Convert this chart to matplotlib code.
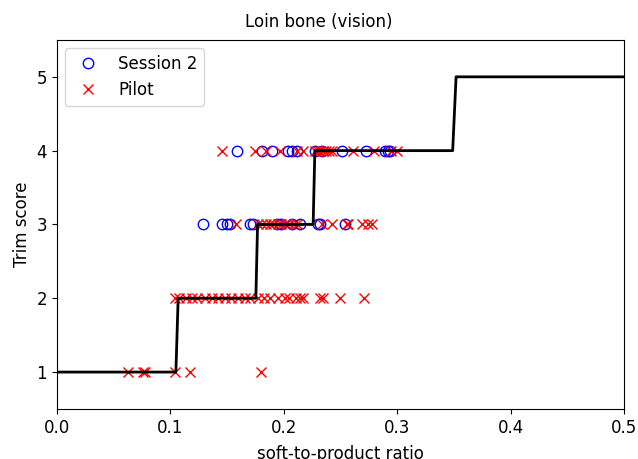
import matplotlib
matplotlib.use('Agg')
import matplotlib.pyplot as plt

# step function (fitted thresholds)
step_x = [0.0, 0.105, 0.107, 0.1755, 0.177, 0.226, 0.2275, 0.349, 0.352, 0.5]
step_y = [1, 1, 2, 2, 3, 3, 4, 4, 5, 5]

# Session 2 points
s2_x3 = [0.129, 0.146, 0.150, 0.153, 0.170, 0.173, 0.194, 0.198, 0.207, 0.214, 0.230, 0.232, 0.254]
s2_x4 = [0.159, 0.181, 0.190, 0.204, 0.207, 0.212, 0.228, 0.234, 0.251, 0.273, 0.289, 0.292, 0.294]

# Pilot points
p_x1 = [0.063, 0.076, 0.078, 0.104, 0.117, 0.180]
p_x2 = [0.104, 0.108, 0.114, 0.119, 0.124, 0.131, 0.137, 0.142, 0.148, 0.154, 0.160,
        0.166, 0.170, 0.177, 0.183, 0.188, 0.195, 0.201, 0.205, 0.211, 0.214, 0.217,
        0.232, 0.235, 0.250, 0.271]
p_x3 = [0.158, 0.177, 0.181, 0.184, 0.188, 0.191, 0.195, 0.198, 0.202, 0.205, 0.209,
        0.212, 0.234, 0.243, 0.256, 0.257, 0.269, 0.274, 0.278]
p_x4 = [0.146, 0.175, 0.184, 0.197, 0.212, 0.217, 0.228, 0.230, 0.232, 0.235, 0.237,
        0.240, 0.243, 0.261, 0.280, 0.295, 0.300]

s2_x = s2_x3 + s2_x4
s2_y = [3] * len(s2_x3) + [4] * len(s2_x4)
p_x = p_x1 + p_x2 + p_x3 + p_x4
p_y = [1] * len(p_x1) + [2] * len(p_x2) + [3] * len(p_x3) + [4] * len(p_x4)

fig = plt.figure(figsize=(6.38, 4.59), dpi=100)
ax = fig.add_axes([0.089, 0.109, 0.889, 0.804])

ax.plot(s2_x, s2_y, 'o', color='blue', markerfacecolor='none', markersize=7.5, label='Session 2')
ax.plot(p_x, p_y, 'x', color='red', markersize=7.5, label='Pilot')
ax.plot(step_x, step_y, color='black', linewidth=2)

ax.set_xlim(0, 0.5)
ax.set_ylim(0.5, 5.5)
ax.set_yticks([1, 2, 3, 4, 5])
fig.suptitle('Loin bone (vision)', fontsize=12, y=0.952, va='center')
ax.set_xlabel('soft-to-product ratio', fontsize=12, labelpad=6)
ax.set_ylabel('Trim score', fontsize=12)
ax.tick_params(labelsize=12)
ax.legend(loc='upper left', fontsize=12)

fig.savefig('out.png', dpi=100)
